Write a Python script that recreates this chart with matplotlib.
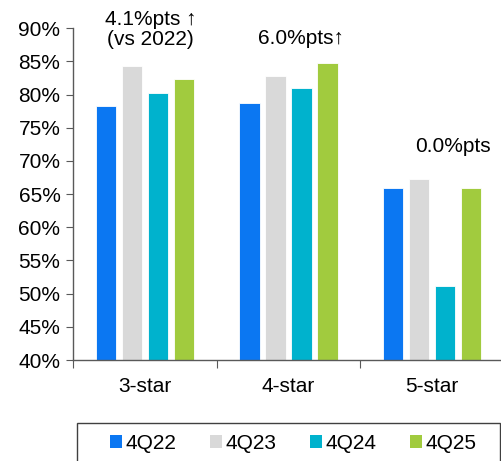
import matplotlib
matplotlib.use('Agg')
import matplotlib.pyplot as plt
from matplotlib.patches import Rectangle
import numpy as np

plt.rcParams['font.family'] = ['Liberation Sans', 'DejaVu Sans']

# データ
categories = ['3-star', '4-star', '5-star']
series_names = ['4Q22', '4Q23', '4Q24', '4Q25']
values_4q22 = [78.2, 78.7, 65.9]
values_4q23 = [84.3, 82.8, 67.3]
values_4q24 = [80.2, 81.0, 51.2]
values_4q25 = [82.3, 84.8, 65.9]
notes = ['4.1%pts \u2191\n(vs 2022)', '6.0%pts\u2191', '0.0%pts']

colors = ['#0B77F2', '#D9D9D9', '#00B2CD', '#A1CB3E']
series = [values_4q22, values_4q23, values_4q24, values_4q25]

fig = plt.figure(figsize=(5.01, 4.61), dpi=100)
ax = fig.add_axes([0.1457, 0.219, 0.86, 0.72])

x = np.arange(len(categories))
width = 0.143
step = 0.181
for i, (vals, col, name) in enumerate(zip(series, colors, series_names)):
    ax.bar(x + (i - 1.5) * step, vals, width, color=col, label=name,
           edgecolor='white', linewidth=0.6)

ax.set_xlim(-0.5, 2.5)
ax.set_ylim(40, 90)
ax.set_yticks(np.arange(40, 91, 5))
ax.set_yticklabels([f'{v}%' for v in range(40, 91, 5)], fontsize=15)

# カテゴリ境界に目盛り
ax.set_xticks([-0.5, 0.5, 1.5, 2.5])
ax.set_xticklabels([])
ax.set_xticks(x, minor=True)
ax.set_xticklabels(categories, minor=True, fontsize=15)
ax.tick_params(axis='x', which='minor', length=0, pad=12)
ax.tick_params(axis='x', which='major', length=6, color='#595959', direction='out')
ax.tick_params(axis='y', length=5, color='#595959', pad=4)

for s in ['top', 'right']:
    ax.spines[s].set_visible(False)
for s in ['left', 'bottom']:
    ax.spines[s].set_color('#595959')
    ax.spines[s].set_linewidth(1.0)

# 注記
note_pos = [(0.04, 89.8), (1.089, 88.5), (2.145, 72.1)]
for txt, (nx, ny) in zip(notes, note_pos):
    ax.text(nx, ny, txt, ha='center', va='center', fontsize=15,
            clip_on=False, linespacing=1.05)

# 凡例（枠は別に描く）
fig.patches.append(Rectangle((77 / 501, -0.02), 423 / 501, 0.0824 + 0.02,
                             transform=fig.transFigure, fill=False,
                             edgecolor='#404040', linewidth=1.0))
leg = fig.legend(loc='center', bbox_to_anchor=(293 / 501, 1 - 443 / 461),
                 ncol=4, fontsize=15, frameon=False,
                 handlelength=0.6, handleheight=0.6, handletextpad=0.15,
                 columnspacing=1.6, borderaxespad=0, borderpad=0)
for h in leg.legend_handles:
    h.set_edgecolor('none')

fig.savefig('out.png', dpi=100)
plt.close()
